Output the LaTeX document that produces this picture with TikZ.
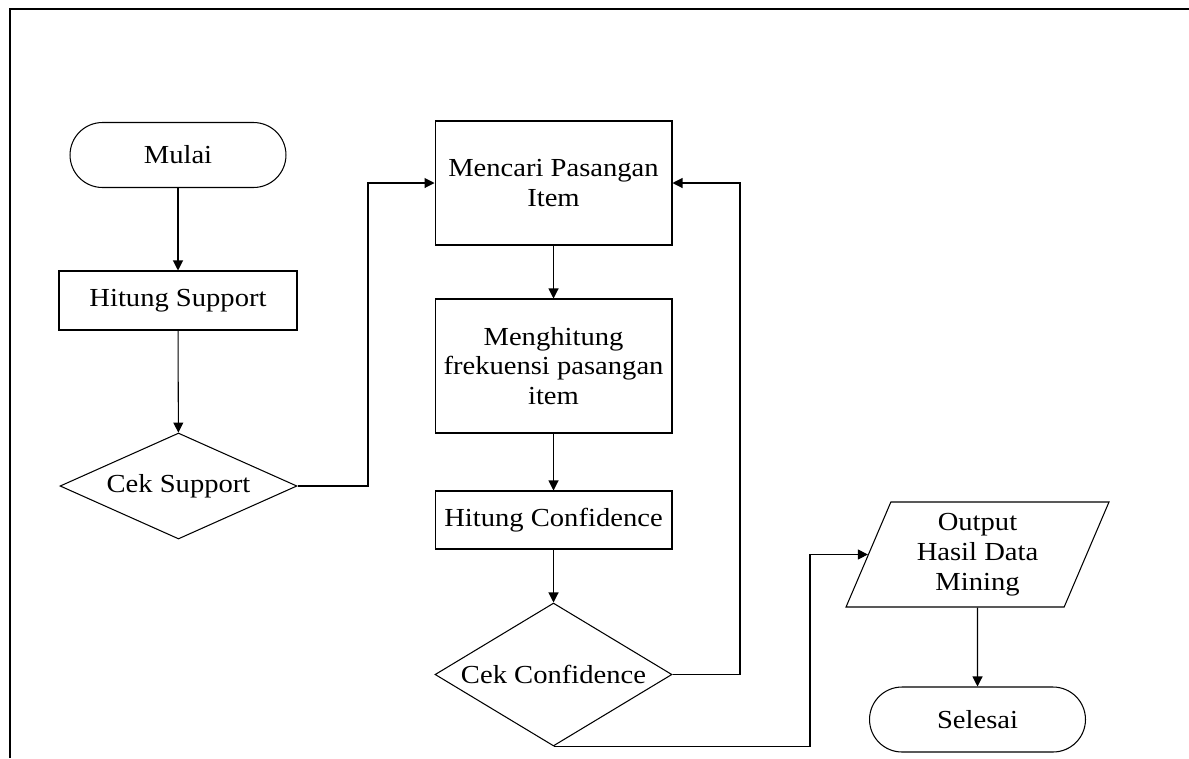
\documentclass[tikz,border=0pt]{standalone}
\usepackage{fontspec}
\setmainfont{Liberation Serif}[FakeStretch=1.1]
\usetikzlibrary{shapes.geometric,arrows.meta}

\tikzset{
  base/.style={draw, line width=0.6pt, inner sep=0pt, align=center,
    font=\fontsize{14.8}{17}\selectfont},
  terminal/.style={base, rectangle, rounded corners=0.65cm,
    minimum width=4.32cm, minimum height=1.3cm},
  process/.style={base, rectangle, minimum width=4.74cm},
  decision/.style={base, diamond},
  io/.style={base, trapezium, trapezium left angle=61.5,
    trapezium right angle=118.5, trapezium stretches body,
    minimum width=5.26cm, minimum height=2.1cm},
  arr/.style={line width=0.6pt, -{Triangle[length=0.2cm,width=0.2cm]}},
  frame/.style={line width=1.6pt}
}

\begin{document}
\begin{tikzpicture}[x=0.02cm, y=-0.02cm]
  \useasboundingbox (0,0) rectangle (1189,758);

  % outer frame (top and left edges)
  \draw[frame] (10,758) -- (10,9) -- (1189,9);

  % left column
  \node[terminal] (mulai) at (178,155) {Mulai};
  \node[process, minimum width=4.76cm, minimum height=1.18cm] (hs) at (178,300.5) {Hitung Support};
  \node[decision, minimum width=4.74cm, minimum height=2.12cm] (cs) at (178.5,486) {\makebox[0pt]{Cek Support}};

  % middle column
  \node[process, minimum height=2.48cm] (mp) at (553.5,183) {Mencari Pasangan\\Item};
  \node[process, minimum height=2.68cm] (mf) at (553.5,366) {Menghitung\\frekuensi pasangan\\item};
  \node[process, minimum height=1.16cm] (hc) at (553.5,520) {Hitung Confidence};
  \node[decision, minimum width=4.74cm, minimum height=2.86cm] (cc) at (553.5,674.5) {\makebox[0pt]{Cek Confidence}};

  % right column
  \node[io] (out) at (977.5,554.5) {Output\\Hasil Data\\Mining};
  \node[terminal] (se) at (977.5,719.5) {Selesai};

  % routing points
  \coordinate (j1) at (368,300);
  \coordinate (j2) at (740,400);
  \coordinate (j3) at (810,650);

  % connectors
  \draw[arr] (mulai) -- (hs);
  \draw[arr] (hs) -- (cs);
  \draw[arr] (cs.east) -| (j1) |- (mp.west);
  \draw[arr] (mp) -- (mf);
  \draw[arr] (mf) -- (hc);
  \draw[arr] (hc) -- (cc);
  \draw[arr] (cc.east) -| (j2) |- (mp.east);
  \draw[arr] (cc.south) -| (j3) |- (out.left side);
  \draw[arr] (out.south) -- (se.north);
\end{tikzpicture}
\end{document}
